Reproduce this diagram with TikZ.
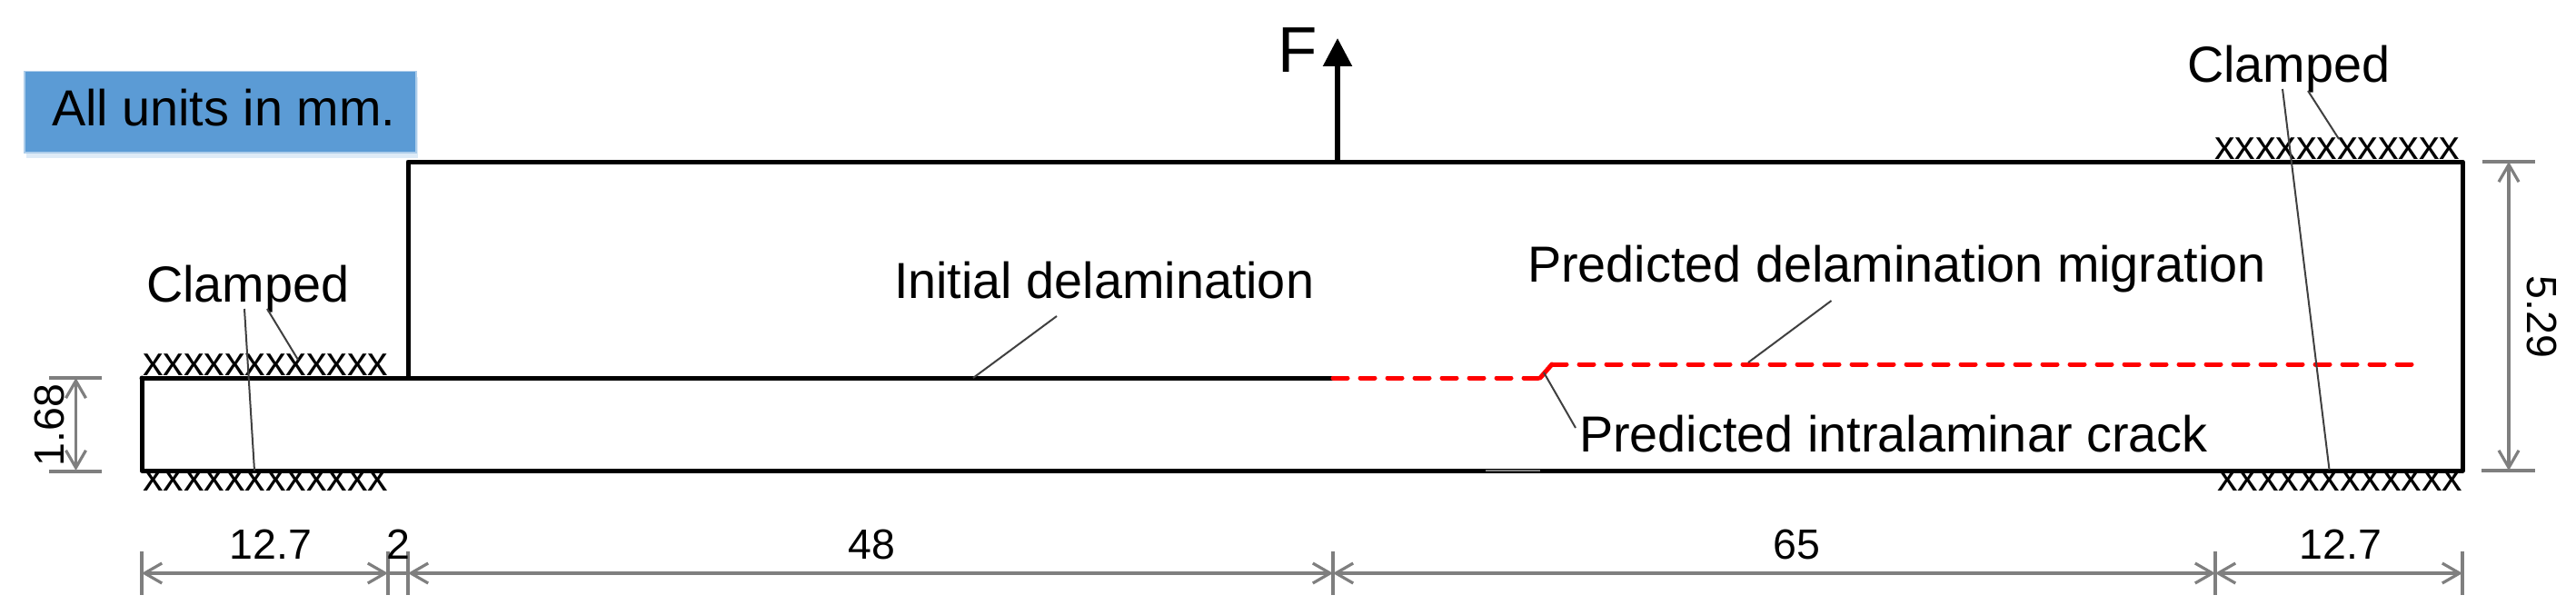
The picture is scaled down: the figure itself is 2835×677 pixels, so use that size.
\documentclass[tikz,border=0pt]{standalone}
\usepackage{fontspec}
\setmainfont{Liberation Sans}
\usetikzlibrary{arrows.meta,shadows}
\definecolor{boxblue}{HTML}{5B9BD5}
\definecolor{dimgray}{HTML}{7F7F7F}
\definecolor{leadergray}{HTML}{404040}
\newcommand{\lab}{\fontsize{55.8}{60}\selectfont}
\newcommand{\num}{\fontsize{46.5}{52}\selectfont}
\newcommand{\clamp}{\fontsize{45}{50}\selectfont}
\tikzset{
  x=1pt,y=-1pt,
  beam/.style={line width=5pt,line cap=round,line join=round},
  crack/.style={beam,red,dash pattern=on 16pt off 14pt},
  dimline/.style={dimgray,line width=3.2pt},
  dimarrow/.style={dimline,{Straight Barb[length=19pt,width=22pt,line width=3.2pt]}-{Straight Barb[length=19pt,width=22pt,line width=3.2pt]}},
  leader/.style={leadergray,line width=2pt},
  txt/.style={inner sep=0pt,outer sep=0pt,anchor=base west,font=\lab},
  numtxt/.style={inner sep=0pt,outer sep=0pt,anchor=base,font=\num},
  clamptxt/.style={inner sep=0pt,outer sep=0pt,anchor=base west,font=\clamp},
  unitbox/.style={fill=boxblue,draw=boxblue!50!white,line width=1.5pt,inner sep=0pt,
    drop shadow={shadow xshift=2pt,shadow yshift=-6pt,fill=boxblue,opacity=0.2}}
}
\begin{document}
\begin{tikzpicture}
\useasboundingbox (0,0) rectangle (2835,677);
% beam corners
\coordinate (bl) at (156,518);
\coordinate (br) at (2710,518);
\coordinate (tr) at (2710,178);
\coordinate (ts) at (449,178);
\coordinate (ss) at (449,416);
\coordinate (ml) at (156,416);
\coordinate (tip) at (1467,416);
\coordinate (k1) at (1695,416);
\coordinate (k2) at (1708,401);
\coordinate (cend) at (2655,401);
\coordinate (g1) at (1635,518);
\coordinate (g2) at (1695,518);
% unit box
\node[unitbox,minimum width=431pt,minimum height=89pt,anchor=north west] (unitsbox) at (26,78) {};
\node[txt] (units) at (57,138) {All units in mm.};
% beam
\draw[beam] (ml) -- (bl) -- (br) -- (tr) -- (ts) -- (ss);
\draw[beam] (ml) -- (tip);
\draw[crack] (tip) -- (k1);
\draw[beam,red] (k1) -- (k2);
\draw[crack] (k2) -- (cend);
\draw[dimgray,line width=2.5pt] (g1) -- (g2);
% force
\coordinate (f0) at (1472,178);
\coordinate (f1) at (1472,42);
\draw[line width=5.5pt,-{Triangle[length=31pt,width=31pt]}] (f0) -- (f1);
\node[inner sep=0pt,anchor=base west,font=\fontsize{71}{76}\selectfont] (force) at (1406,79) {F};
% clamps
\node[clamptxt] (xtl) at (157,413) {xxxxxxxxxxxx};
\node[clamptxt] (xbl) at (157,540) {xxxxxxxxxxxx};
\node[clamptxt] (xtr) at (2437,175) {xxxxxxxxxxxx};
\node[clamptxt] (xbr) at (2440,540) {xxxxxxxxxxxx};
% labels
\node[txt] (cl) at (161,332) {Clamped};
\node[txt] (cr) at (2407,91) {Clamped};
\node[txt] (init) at (984,328) {Initial delamination};
\node[txt] (pdm) at (1681,310) {Predicted delamination migration};
\node[txt] (pic) at (1738,497) {Predicted intralaminar crack};
% leaders
\coordinate (la1) at (269,340); \coordinate (la2) at (280,518);
\coordinate (lb1) at (294,340); \coordinate (lb2) at (328,396);
\coordinate (ra1) at (2512,98); \coordinate (ra2) at (2563.5,517);
\coordinate (rb1) at (2540,100); \coordinate (rb2) at (2574,153);
\coordinate (pd1) at (2015.5,331); \coordinate (pd2) at (1924,399);
\coordinate (pi1) at (1699,410); \coordinate (pi2) at (1734,471);
\coordinate (id1) at (1163,348); \coordinate (id2) at (1071,416);
\foreach \a/\b in {la1/la2,lb1/lb2,ra1/ra2,rb1/rb2,pd1/pd2,pi1/pi2,id1/id2}
  \draw[leader] (\a) -- (\b);
% horizontal dimensions
\coordinate (d0) at (156,631); \coordinate (d1) at (427,631);
\coordinate (d2) at (449,631); \coordinate (d3) at (1467,631);
\coordinate (d4) at (2438,631); \coordinate (d5) at (2710,631);
\foreach \c in {d0,d1,d2,d3,d4,d5}
  \draw[dimline] ([yshift=24pt]\c) -- ([yshift=-24pt]\c);
\draw[dimarrow] (d0) -- (d1);
\draw[dimline] (d1) -- (d2);
\draw[dimarrow] (d2) -- (d3);
\draw[dimarrow] (d3) -- (d4);
\draw[dimarrow] (d4) -- (d5);
\node[numtxt] (n127a) at (298,615) {12.7};
\node[numtxt] (n2) at (438,615) {2};
\node[numtxt] (n48) at (959,615) {48};
\node[numtxt] (n65) at (1977,615) {65};
\node[numtxt] (n127b) at (2576,615) {12.7};
% vertical dimensions
\coordinate (v0) at (83.5,416); \coordinate (v1) at (83.5,518);
\coordinate (w0) at (2761,178); \coordinate (w1) at (2761,518);
\coordinate (v0a) at (54,416); \coordinate (v0b) at (112,416);
\coordinate (v1a) at (54,519); \coordinate (v1b) at (112,519);
\coordinate (w0a) at (2732,178); \coordinate (w0b) at (2790,178);
\coordinate (w1a) at (2731,518); \coordinate (w1b) at (2790,518);
\foreach \a/\b in {v0a/v0b,v1a/v1b,w0a/w0b,w1a/w1b}
  \draw[dimline] (\a) -- (\b);
\draw[dimarrow] (v0) -- (v1);
\draw[dimarrow] (w0) -- (w1);
\node[inner sep=0pt,font=\num,rotate=90] (n168) at (54,468) {1.68};
\node[inner sep=0pt,font=\num,rotate=-90] (n529) at (2797,349) {5.29};
\end{tikzpicture}
\end{document}
